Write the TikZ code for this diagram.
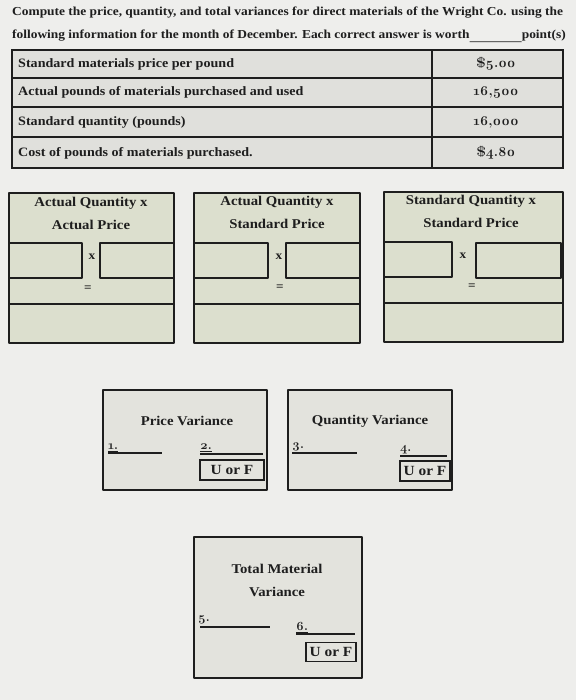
\documentclass[tikz,border=0pt]{standalone}
\usepackage{fontspec}
\setmainfont[FakeStretch=1.1]{Liberation Serif}
\newfontfamily\osf[Numbers=OldStyle]{Latin Modern Roman}
\definecolor{pagebg}{HTML}{EEEEEC}
\definecolor{cellgray}{HTML}{E0E0DC}
\definecolor{boxgreen}{HTML}{DCDFCE}
\definecolor{varbg}{HTML}{E3E3DD}
\definecolor{ink}{HTML}{1E1E1E}
\begin{document}
\begin{tikzpicture}[x=1pt,y=-1pt,
  hdr/.style={font=\bfseries\fontsize{12.2}{14}\selectfont, text=ink, inner sep=0pt},
  cell/.style={font=\bfseries\fontsize{12.8}{14}\selectfont, text=ink, inner sep=0pt},
  num/.style={font=\osf\bfseries\fontsize{13.6}{15}\selectfont, text=ink, inner sep=0pt},
  ttl/.style={font=\bfseries\fontsize{13.4}{15}\selectfont, text=ink, inner sep=0pt},
  sym/.style={font=\bfseries\fontsize{12}{13}\selectfont, text=ink, inner sep=0pt},
  small/.style={font=\osf\bfseries\fontsize{12.5}{14}\selectfont, text=ink, inner sep=0pt},
  tbl/.style={draw=ink, line width=1.1pt},
  box/.style={draw=ink, line width=1.7pt, line join=round},
  uline/.style={draw=ink, line width=1.3pt},
  uof/.style={draw=ink, line width=1.4pt, font=\bfseries\fontsize{14}{15}\selectfont, text=ink, inner sep=1pt}
]
\useasboundingbox (0,0) rectangle (576,700);
\fill[pagebg] (0,0) rectangle (576,700);

% header
\node[hdr, anchor=west] (h1) at (12,13) {Compute the price, quantity, and total variances for direct materials of the Wright Co. using the};
\node[hdr, anchor=west] (h2) at (12,36) {following information for the month of December. Each correct answer is worth};
\node[hdr, anchor=east] (h3) at (566,36) {point(s)};
\draw[draw=ink, line width=0.8pt] (h2.south east) -- (h3.south west);

% table
\fill[cellgray] (12,50) rectangle (563,168);
\draw[tbl] (12,50) rectangle (563,168);
\draw[tbl] (432,50) -- (432,168);
\draw[tbl] (12,78) -- (563,78);
\draw[tbl] (12,107) -- (563,107);
\draw[tbl] (12,137) -- (563,137);
\node[cell, anchor=west] (r1) at (18,64) {Standard materials price per pound};
\node[cell, anchor=west] (r2) at (18,92) {Actual pounds of materials purchased and used};
\node[cell, anchor=west] (r3) at (18,122) {Standard quantity (pounds)};
\node[cell, anchor=west] (r4) at (18,153) {Cost of pounds of materials purchased.};
\node[num] (v1) at (496,64) {\$5.00};
\node[num] (v2) at (496,92) {16,500};
\node[num] (v3) at (496,122) {16,000};
\node[num] (v4) at (496,153) {\$4.80};

% three computation boxes
% box 1
\draw[box, fill=boxgreen] (9,193) rectangle (174,343);
\draw[box] (9,243) rectangle (82,278);
\draw[box] (100,243) rectangle (174,278);
\draw[box] (9,304) -- (174,304);
\node[ttl] (t1a) at (91,203) {Actual Quantity x};
\node[ttl] (t1b) at (91,225) {Actual Price};
\node[sym] (x1) at (92,257) {x};
\node[sym] (e1) at (88,289) {=};
% box 2
\draw[box, fill=boxgreen] (194,193) rectangle (360,343);
\draw[box] (194,243) rectangle (268,278);
\draw[box] (286,243) rectangle (360,278);
\draw[box] (194,304) -- (360,304);
\node[ttl] (t2a) at (277,202) {Actual Quantity x};
\node[ttl] (t2b) at (277,224) {Standard Price};
\node[sym] (x2) at (279,257) {x};
\node[sym] (e2) at (280,288) {=};
% box 3
\draw[box, fill=boxgreen] (384,192) rectangle (563,342);
\draw[box] (384,242) rectangle (452,277);
\draw[box] (476,243) rectangle (561,278);
\draw[box] (384,303) -- (563,303);
\node[ttl] (t3a) at (471,201) {Standard Quantity x};
\node[ttl] (t3b) at (471,223) {Standard Price};
\node[sym] (x3) at (463,256) {x};
\node[sym] (e3) at (472,287) {=};

% price variance
\draw[box, fill=varbg] (103,390) rectangle (267,490);
\node[ttl] (pv) at (187,421) {Price Variance};
\node[small, anchor=south west] (n1) at (108,452) {\underline{1.}};
\draw[uline] (108,453) -- (162,453);
\node[small, anchor=south west] (n2) at (200,452) {\underline{2.}};
\draw[uline] (200,454) -- (263,454);
\node[uof, minimum width=64pt, minimum height=20pt] (u1) at (232,470) {U or F};

% quantity variance
\draw[box, fill=varbg] (288,390) rectangle (452,490);
\node[ttl] (qv) at (370,421) {Quantity Variance};
\node[small, anchor=south west] (n3) at (292,451) {3.};
\draw[uline] (292,453) -- (357,453);
\node[small, anchor=south west] (n4) at (400,454) {4.};
\draw[uline] (400,456) -- (447,456);
\node[uof, minimum width=50pt, minimum height=20pt] (u2) at (425,471) {U or F};

% total
\draw[box, fill=varbg] (194,537) rectangle (362,678);
\node[ttl] (tm1) at (277,569) {Total Material};
\node[ttl] (tm2) at (277,592) {Variance};
\node[small, anchor=south west] (n5) at (198,624) {5.};
\draw[uline] (200,627) -- (270,627);
\node[small, anchor=south west] (n6) at (296,633) {\underline{6.}};
\draw[uline] (296,634) -- (355,634);
\node[uof, minimum width=50pt, minimum height=19pt] (u3) at (331,652) {U or F};
\end{tikzpicture}
\end{document}
